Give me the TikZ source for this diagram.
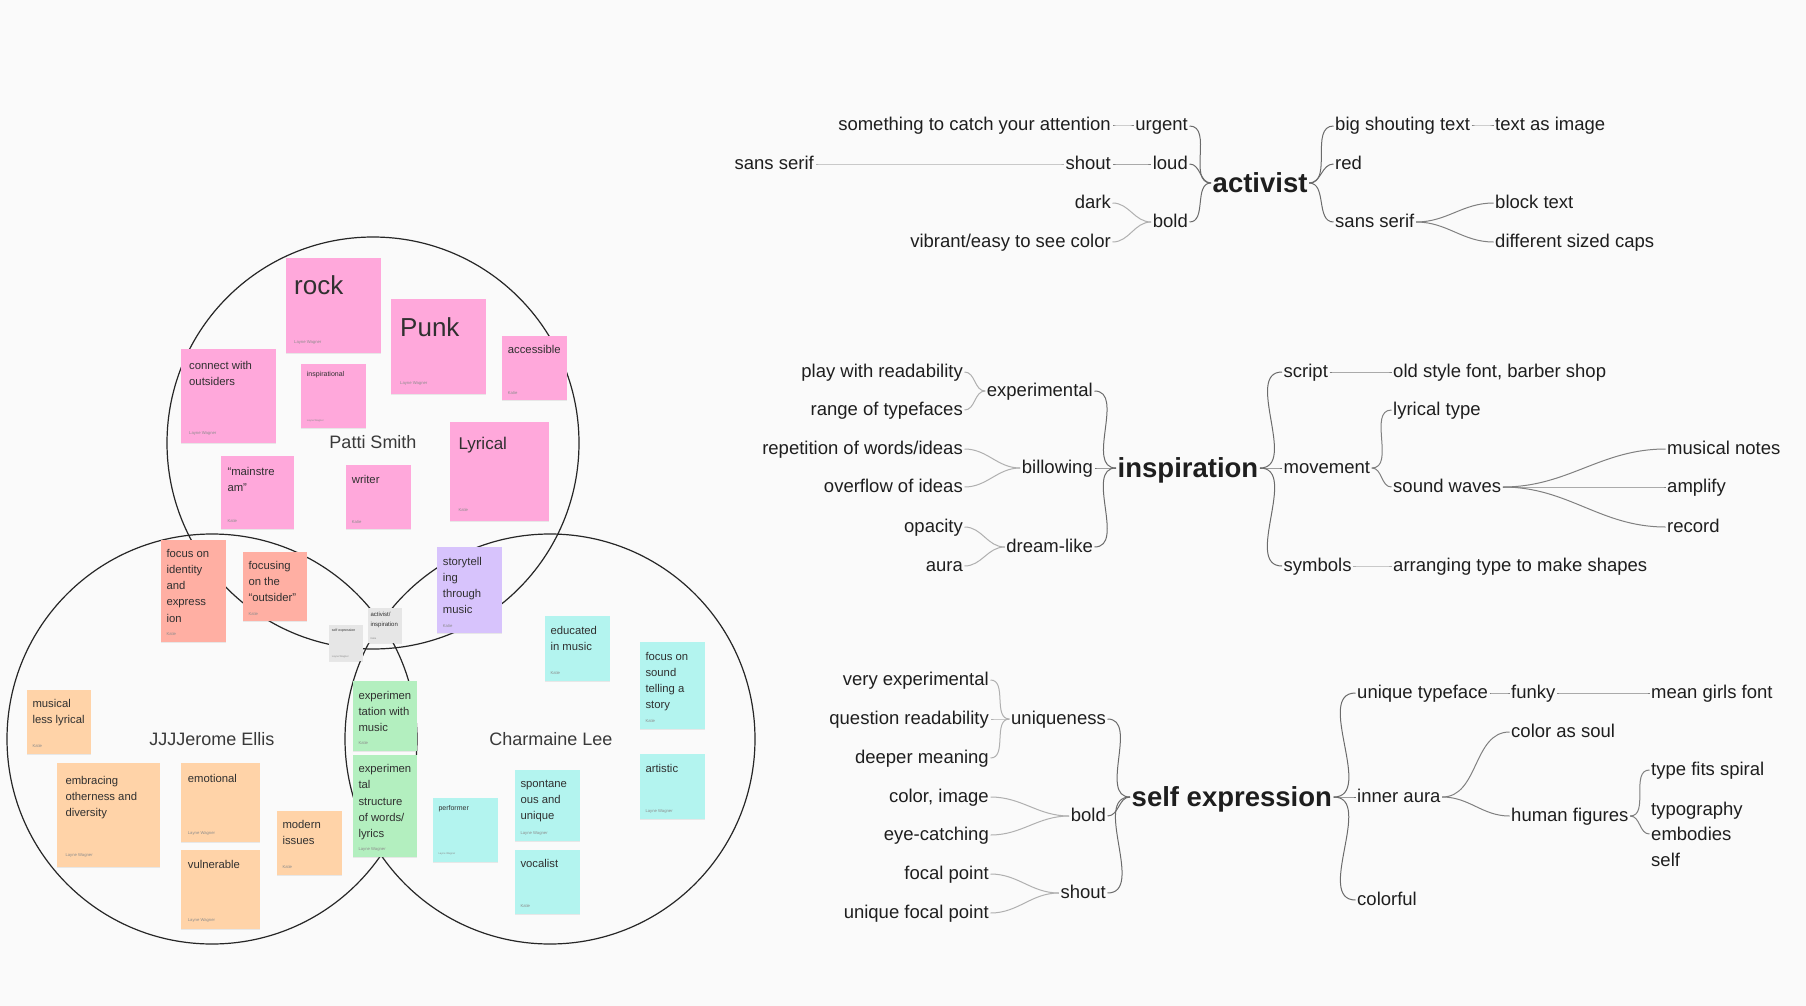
\documentclass[tikz,border=0pt]{standalone}
\usepackage{fontspec}
\setmainfont{Liberation Sans}
\usetikzlibrary{shadows}

\definecolor{paper}{HTML}{FAFAFA}
\definecolor{ink}{HTML}{1E1E1E}
\definecolor{pinknote}{HTML}{FFA8DB}
\definecolor{rednote}{HTML}{FFAFA3}
\definecolor{orangenote}{HTML}{FFD3A8}
\definecolor{greennote}{HTML}{B3EFBF}
\definecolor{tealnote}{HTML}{B3F4EF}
\definecolor{violetnote}{HTML}{D7C3FC}
\definecolor{graynote}{HTML}{E6E6E6}
\definecolor{linkA}{HTML}{6B6B6B}
\definecolor{linkB}{HTML}{808080}
\definecolor{linkC}{HTML}{B0B0B0}

\begin{document}
\begin{tikzpicture}[x=1pt,y=-1pt,
  sticky/.style={anchor=north west,inner sep=0pt,outer sep=0pt,drop shadow={shadow xshift=0pt,shadow yshift=-1pt,opacity=0.15}},
  note/.style={anchor=north west,inner sep=0pt,align=left,text=ink!92,font=\fontsize{11.3}{16.2}\selectfont},
  bignote/.style={note,font=\fontsize{26}{30}\selectfont},
  midnote/.style={note,font=\fontsize{17}{20}\selectfont},
  tinynote/.style={note,font=\fontsize{7}{10}\selectfont},
  micronote/.style={note,font=\fontsize{3.5}{5}\selectfont},
  smallnote/.style={note,font=\fontsize{6}{10}\selectfont},
  who/.style={anchor=west,inner sep=0pt,text=black!45,font=\fontsize{4.2}{5}\selectfont},
  tinywho/.style={who,font=\fontsize{2.6}{3}\selectfont},
  venn/.style={draw=black!85,line width=1.2pt},
  person/.style={inner sep=0pt,text=ink!88,font=\fontsize{18}{22}\selectfont},
  mm/.style={inner xsep=1.5pt,inner ysep=0pt,text=ink,text height=13pt,text depth=3pt,font=\fontsize{18.5}{25.5}\selectfont},
  mmblock/.style={inner xsep=1.5pt,inner ysep=0pt,text=ink,align=left,font=\fontsize{18.5}{25.5}\selectfont},
  hub/.style={mm,text height=20pt,text depth=2pt,font=\fontsize{27.5}{30}\selectfont\bfseries},
  linkone/.style={draw=linkA,line width=1pt},
  linktwo/.style={draw=linkB,line width=1pt},
  linkthree/.style={draw=linkC,line width=1pt}]

\fill[paper] (0,0) rectangle (1806,1006);
\useasboundingbox (0,0) rectangle (1806,1006);

\draw[venn] (373,443) circle[radius=206pt];
\draw[venn] (212,739) circle[radius=205pt];
\draw[venn] (550,739) circle[radius=205pt];

\node[sticky,fill=pinknote,minimum width=95pt,minimum height=95pt] (rock) at (286,258) {};
\node[bignote] (rockT) at ([xshift=8pt,yshift=-17.7pt]rock.north west) {rock};
\node[who] (rockW) at ([xshift=8pt,yshift=11pt]rock.south west) {Layne Wagner};
\node[sticky,fill=pinknote,minimum width=95pt,minimum height=95pt] (punk) at (391,299) {};
\node[bignote] (punkT) at ([xshift=9pt,yshift=-18.7pt]punk.north west) {Punk};
\node[who] (punkW) at ([xshift=9pt,yshift=11pt]punk.south west) {Layne Wagner};
\node[sticky,fill=pinknote,minimum width=65pt,minimum height=64pt] (access) at (502,336) {};
\node[note] (accessT) at ([xshift=5.7pt,yshift=-9pt]access.north west) {accessible};
\node[who] (accessW) at ([xshift=5.7pt,yshift=7pt]access.south west) {Katie};
\node[sticky,fill=pinknote,minimum width=95pt,minimum height=94pt] (connect) at (181,349) {};
\node[note] (connectT) at ([xshift=8pt,yshift=-12pt]connect.north west) {connect with\\outsiders};
\node[who] (connectW) at ([xshift=8pt,yshift=10pt]connect.south west) {Layne Wagner};
\node[sticky,fill=pinknote,minimum width=65pt,minimum height=64pt] (inspir) at (301,364) {};
\node[tinynote] (inspirT) at ([xshift=5.7pt,yshift=-7.5pt]inspir.north west) {inspirational};
\node[tinywho] (inspirW) at ([xshift=5.7pt,yshift=7pt]inspir.south west) {Layne Wagner};
\node[sticky,fill=pinknote,minimum width=73pt,minimum height=73pt] (mainstr) at (221,456) {};
\node[note] (mainstrT) at ([xshift=6.3pt,yshift=-11pt]mainstr.north west) {“mainstre\\am”};
\node[who] (mainstrW) at ([xshift=6.3pt,yshift=8pt]mainstr.south west) {Katie};
\node[sticky,fill=pinknote,minimum width=65pt,minimum height=64pt] (writer) at (346,465) {};
\node[note] (writerT) at ([xshift=5.7pt,yshift=-10pt]writer.north west) {writer};
\node[who] (writerW) at ([xshift=5.7pt,yshift=7pt]writer.south west) {Katie};
\node[sticky,fill=pinknote,minimum width=99pt,minimum height=99pt] (lyrical) at (450,422) {};
\node[midnote] (lyricalT) at ([xshift=8.3pt,yshift=-14.5pt]lyrical.north west) {Lyrical};
\node[who] (lyricalW) at ([xshift=8.3pt,yshift=11pt]lyrical.south west) {Katie};

\node[sticky,fill=rednote,minimum width=65pt,minimum height=102pt] (identity) at (161,540) {};
\node[note] (identityT) at ([xshift=5.3pt,yshift=-9pt]identity.north west) {focus on\\identity\\and\\express\\ion};
\node[who] (identityW) at ([xshift=5.3pt,yshift=8pt]identity.south west) {Katie};
\node[sticky,fill=rednote,minimum width=64pt,minimum height=69pt] (outsider) at (243,552) {};
\node[note] (outsiderT) at ([xshift=5.3pt,yshift=-9pt]outsider.north west) {focusing\\on the\\“outsider”};
\node[who] (outsiderW) at ([xshift=5.3pt,yshift=7pt]outsider.south west) {Katie};

\node[sticky,fill=graynote,minimum width=34pt,minimum height=36pt] (selfexp) at (329,625) {};
\node[micronote] (selfexpT) at ([xshift=2.7pt,yshift=-3.5pt]selfexp.north west) {self expression};
\node[tinywho] (selfexpW) at ([xshift=2.7pt,yshift=4pt]selfexp.south west) {Layne Wagner};
\node[sticky,fill=graynote,minimum width=34pt,minimum height=35pt] (actinsp) at (368,608) {};
\node[smallnote] (actinspT) at ([xshift=2.3pt,yshift=-3.7pt]actinsp.north west) {activist/\\inspiration};
\node[tinywho] (actinspW) at ([xshift=2.3pt,yshift=4pt]actinsp.south west) {Katie};

\node[sticky,fill=orangenote,minimum width=64pt,minimum height=64pt] (musical) at (27,690) {};
\node[note] (musicalT) at ([xshift=5.3pt,yshift=-9pt]musical.north west) {musical\\less lyrical};
\node[who] (musicalW) at ([xshift=5.3pt,yshift=8pt]musical.south west) {Katie};
\node[sticky,fill=orangenote,minimum width=103pt,minimum height=104pt] (embrace) at (57,763) {};
\node[note] (embraceT) at ([xshift=8.3pt,yshift=-13pt]embrace.north west) {embracing\\otherness and\\diversity};
\node[who] (embraceW) at ([xshift=8.3pt,yshift=12pt]embrace.south west) {Layne Wagner};
\node[sticky,fill=orangenote,minimum width=79pt,minimum height=79pt] (emotion) at (181,763) {};
\node[note] (emotionT) at ([xshift=6.7pt,yshift=-11pt]emotion.north west) {emotional};
\node[who] (emotionW) at ([xshift=6.7pt,yshift=9pt]emotion.south west) {Layne Wagner};
\node[sticky,fill=orangenote,minimum width=79pt,minimum height=79pt] (vulner) at (181,850) {};
\node[note] (vulnerT) at ([xshift=6.7pt,yshift=-10.3pt]vulner.north west) {vulnerable};
\node[who] (vulnerW) at ([xshift=6.7pt,yshift=9pt]vulner.south west) {Layne Wagner};
\node[sticky,fill=orangenote,minimum width=65pt,minimum height=64pt] (modern) at (277,811) {};
\node[note] (modernT) at ([xshift=5.3pt,yshift=-9.3pt]modern.north west) {modern\\issues};
\node[who] (modernW) at ([xshift=5.3pt,yshift=8pt]modern.south west) {Katie};

\node[sticky,fill=greennote,minimum width=64pt,minimum height=70pt] (expmusic) at (353,681) {};
\node[note] (expmusicT) at ([xshift=5.3pt,yshift=-10pt]expmusic.north west) {experimen\\tation with\\music};
\node[who] (expmusicW) at ([xshift=5.3pt,yshift=8pt]expmusic.south west) {Katie};
\node[sticky,fill=greennote,minimum width=64pt,minimum height=102pt] (expwords) at (353,755) {};
\node[note] (expwordsT) at ([xshift=5.3pt,yshift=-9.3pt]expwords.north west) {experimen\\tal\\structure\\of words/\\lyrics};
\node[who] (expwordsW) at ([xshift=5.3pt,yshift=8pt]expwords.south west) {Layne Wagner};
\node[sticky,fill=violetnote,minimum width=65pt,minimum height=86pt] (story) at (437,547) {};
\node[note] (storyT) at ([xshift=5.7pt,yshift=-10pt]story.north west) {storytell\\ing\\through\\music};
\node[who] (storyW) at ([xshift=5.7pt,yshift=7pt]story.south west) {Katie};

\node[sticky,fill=tealnote,minimum width=65pt,minimum height=65pt] (educated) at (545,616) {};
\node[note] (educatedT) at ([xshift=5.3pt,yshift=-10pt]educated.north west) {educated\\in music};
\node[who] (educatedW) at ([xshift=5.3pt,yshift=8pt]educated.south west) {Katie};
\node[sticky,fill=tealnote,minimum width=65pt,minimum height=87pt] (sound) at (640,642) {};
\node[note] (soundT) at ([xshift=5.3pt,yshift=-10pt]sound.north west) {focus on\\sound\\telling a\\story};
\node[who] (soundW) at ([xshift=5.3pt,yshift=8pt]sound.south west) {Katie};
\node[sticky,fill=tealnote,minimum width=65pt,minimum height=65pt] (artistic) at (640,754) {};
\node[note] (artisticT) at ([xshift=5.3pt,yshift=-10pt]artistic.north west) {artistic};
\node[who] (artisticW) at ([xshift=5.3pt,yshift=8pt]artistic.south west) {Layne Wagner};
\node[sticky,fill=tealnote,minimum width=65pt,minimum height=64pt] (perform) at (433,798) {};
\node[tinynote] (performT) at ([xshift=5.3pt,yshift=-7.5pt]perform.north west) {performer};
\node[tinywho] (performW) at ([xshift=5.3pt,yshift=8pt]perform.south west) {Layne Wagner};
\node[sticky,fill=tealnote,minimum width=65pt,minimum height=71pt] (spont) at (515,770) {};
\node[note] (spontT) at ([xshift=5.3pt,yshift=-10pt]spont.north west) {spontane\\ous and\\unique};
\node[who] (spontW) at ([xshift=5.3pt,yshift=8pt]spont.south west) {Layne Wagner};
\node[sticky,fill=tealnote,minimum width=65pt,minimum height=64pt] (vocal) at (515,850) {};
\node[note] (vocalT) at ([xshift=5.3pt,yshift=-9pt]vocal.north west) {vocalist};
\node[who] (vocalW) at ([xshift=5.3pt,yshift=8pt]vocal.south west) {Katie};

\node[person] (patti) at (373,442) {Patti Smith};
\node[person] (jerome) at (212,739) {JJJJerome Ellis};
\node[person] (charmaine) at (551,739) {Charmaine Lee};

\node[hub,anchor=west] (act) at (1211,183) {activist};
\node[mm,anchor=east] (urgent) at (1189.5,126) {urgent};
\node[mm,anchor=east] (loud) at (1189.5,164) {loud};
\node[mm,anchor=east] (boldA) at (1189.5,222) {bold};
\node[mm,anchor=east] (catch) at (1112.5,126) {something to catch your attention};
\node[mm,anchor=east] (shoutA) at (1112.5,164) {shout};
\node[mm,anchor=east] (sansA) at (815.5,164) {sans serif};
\node[mm,anchor=east] (dark) at (1112.5,203) {dark};
\node[mm,anchor=east] (vibrant) at (1112.5,242) {vibrant/easy to see color};
\node[mm,anchor=west] (bigtext) at (1333.5,126) {big shouting text};
\node[mm,anchor=west] (red) at (1333.5,164) {red};
\node[mm,anchor=west] (sansB) at (1333.5,222) {sans serif};
\node[mm,anchor=west] (textimg) at (1493.5,126) {text as image};
\node[mm,anchor=west] (block) at (1493.5,203) {block text};
\node[mm,anchor=west] (caps) at (1493.5,242) {different sized caps};
\draw[linkone] (act.west) to[out=180,in=0] (urgent.east);
\draw[linkone] (act.west) to[out=180,in=0] (loud.east);
\draw[linkone] (act.west) to[out=180,in=0] (boldA.east);
\draw[linktwo] (urgent.west) to[out=180,in=0] (catch.east);
\draw[linktwo] (loud.west) to[out=180,in=0] (shoutA.east);
\draw[linkthree] (shoutA.west) to[out=180,in=0] (sansA.east);
\draw[linkthree] (boldA.west) to[out=180,in=0] (dark.east);
\draw[linkthree] (boldA.west) to[out=180,in=0] (vibrant.east);
\draw[linkone] (act.east) to[out=0,in=180] (bigtext.west);
\draw[linkone] (act.east) to[out=0,in=180] (red.west);
\draw[linkone] (act.east) to[out=0,in=180] (sansB.west);
\draw[linktwo] (bigtext.east) to[out=0,in=180] (textimg.west);
\draw[linktwo] (sansB.east) to[out=0,in=180] (block.west);
\draw[linktwo] (sansB.east) to[out=0,in=180] (caps.west);

\node[hub,anchor=west] (insp) at (1116,468) {inspiration};
\node[mm,anchor=east] (experim) at (1094.5,391) {experimental};
\node[mm,anchor=east] (billow) at (1094.5,468) {billowing};
\node[mm,anchor=east] (dream) at (1094.5,547) {dream-like};
\node[mm,anchor=east] (play) at (964.5,372) {play with readability};
\node[mm,anchor=east] (range) at (964.5,410) {range of typefaces};
\node[mm,anchor=east] (repet) at (964.5,449) {repetition of words/ideas};
\node[mm,anchor=east] (overflow) at (964.5,487) {overflow of ideas};
\node[mm,anchor=east] (opac) at (964.5,527) {opacity};
\node[mm,anchor=east] (aura) at (964.5,566) {aura};
\node[mm,anchor=west] (script) at (1282,372) {script};
\node[mm,anchor=west] (movem) at (1282,468) {movement};
\node[mm,anchor=west] (symb) at (1282,566) {symbols};
\node[mm,anchor=west] (oldstyle) at (1391.5,372) {old style font, barber shop};
\node[mm,anchor=west] (lyrtype) at (1391.5,410) {lyrical type};
\node[mm,anchor=west] (waves) at (1391.5,487) {sound waves};
\node[mm,anchor=west] (arrange) at (1391.5,566) {arranging type to make shapes};
\node[mm,anchor=west] (notes) at (1665.5,449) {musical notes};
\node[mm,anchor=west] (amplify) at (1665.5,487) {amplify};
\node[mm,anchor=west] (record) at (1665.5,527) {record};
\draw[linkone] (insp.west) to[out=180,in=0] (experim.east);
\draw[linkone] (insp.west) to[out=180,in=0] (billow.east);
\draw[linkone] (insp.west) to[out=180,in=0] (dream.east);
\draw[linkthree] (experim.west) to[out=180,in=0] (play.east);
\draw[linkthree] (experim.west) to[out=180,in=0] (range.east);
\draw[linkthree] (billow.west) to[out=180,in=0] (repet.east);
\draw[linkthree] (billow.west) to[out=180,in=0] (overflow.east);
\draw[linkthree] (dream.west) to[out=180,in=0] (opac.east);
\draw[linkthree] (dream.west) to[out=180,in=0] (aura.east);
\draw[linkone] (insp.east) to[out=0,in=180] (script.west);
\draw[linkone] (insp.east) to[out=0,in=180] (movem.west);
\draw[linkone] (insp.east) to[out=0,in=180] (symb.west);
\draw[linktwo] (script.east) to[out=0,in=180] (oldstyle.west);
\draw[linktwo] (movem.east) to[out=0,in=180] (lyrtype.west);
\draw[linktwo] (movem.east) to[out=0,in=180] (waves.west);
\draw[linkthree] (symb.east) to[out=0,in=180] (arrange.west);
\draw[linktwo] (waves.east) to[out=0,in=180] (notes.west);
\draw[linktwo] (waves.east) to[out=0,in=180] (amplify.west);
\draw[linktwo] (waves.east) to[out=0,in=180] (record.west);

\node[hub,anchor=west] (selfx) at (1130,797) {self expression};
\node[mm,anchor=east] (unique) at (1107.5,719) {uniqueness};
\node[mm,anchor=east] (boldB) at (1107.5,816) {bold};
\node[mm,anchor=east] (shoutB) at (1107.5,893) {shout};
\node[mm,anchor=east] (veryexp) at (990.5,680) {very experimental};
\node[mm,anchor=east] (question) at (990.5,719) {question readability};
\node[mm,anchor=east] (deeper) at (990.5,758) {deeper meaning};
\node[mm,anchor=east] (colimg) at (990.5,797) {color, image};
\node[mm,anchor=east] (eyecatch) at (990.5,835) {eye-catching};
\node[mm,anchor=east] (focal) at (990.5,874) {focal point};
\node[mm,anchor=east] (ufocal) at (990.5,913) {unique focal point};
\node[mm,anchor=west] (utype) at (1355.5,693) {unique typeface};
\node[mm,anchor=west] (inner) at (1355.5,797) {inner aura};
\node[mm,anchor=west] (colorful) at (1355.5,900) {colorful};
\node[mm,anchor=west] (funky) at (1509.5,693) {funky};
\node[mm,anchor=west] (soul) at (1509.5,732) {color as soul};
\node[mm,anchor=west] (human) at (1509.5,816) {human figures};
\node[mm,anchor=west] (meangirls) at (1649.5,693) {mean girls font};
\node[mm,anchor=west] (spiral) at (1649.5,770) {type fits spiral};
\node[mmblock,anchor=west] (embody) at (1649.5,834) {typography\\embodies\\self};
\draw[linkone] (selfx.west) to[out=180,in=0] (unique.east);
\draw[linkone] (selfx.west) to[out=180,in=0] (boldB.east);
\draw[linkone] (selfx.west) to[out=180,in=0] (shoutB.east);
\draw[linkthree] (unique.west) to[out=180,in=0] (veryexp.east);
\draw[linkthree] (unique.west) to[out=180,in=0] (question.east);
\draw[linkthree] (unique.west) to[out=180,in=0] (deeper.east);
\draw[linkthree] (boldB.west) to[out=180,in=0] (colimg.east);
\draw[linkthree] (boldB.west) to[out=180,in=0] (eyecatch.east);
\draw[linkthree] (shoutB.west) to[out=180,in=0] (focal.east);
\draw[linkthree] (shoutB.west) to[out=180,in=0] (ufocal.east);
\draw[linkone] (selfx.east) to[out=0,in=180] (utype.west);
\draw[linkone] (selfx.east) to[out=0,in=180] (inner.west);
\draw[linkone] (selfx.east) to[out=0,in=180] (colorful.west);
\draw[linktwo] (utype.east) to[out=0,in=180] (funky.west);
\draw[linktwo] (funky.east) to[out=0,in=180] (meangirls.west);
\draw[linktwo] (inner.east) to[out=0,in=180] (soul.west);
\draw[linktwo] (inner.east) to[out=0,in=180] (human.west);
\draw[linktwo] (human.east) to[out=0,in=180] (spiral.west);
\draw[linktwo] (human.east) to[out=0,in=180] (embody.west);
\end{tikzpicture}
\end{document}
